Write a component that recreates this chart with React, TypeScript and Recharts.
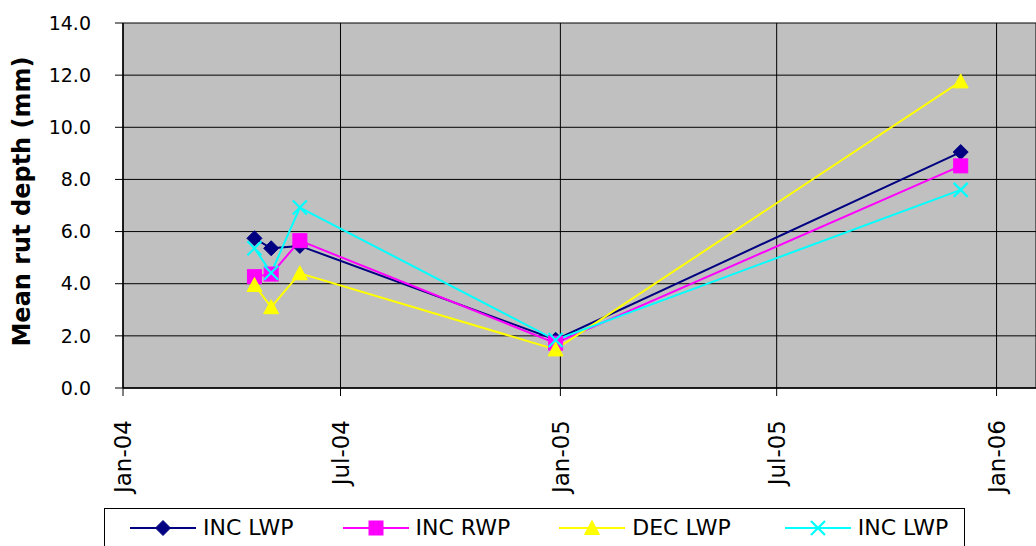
import React from 'react';
import { LineChart, Line, XAxis, YAxis, CartesianGrid } from 'recharts';

// ---- data ----
const sampleDates = ['2004-04-20', '2004-05-04', '2004-05-28', '2004-12-28', '2005-12-02'];
const incLwpA = [5.74, 5.36, 5.45, 1.85, 9.05];
const incRwp = [4.27, 4.37, 5.65, 1.72, 8.52];
const decLwp = [3.95, 3.1, 4.4, 1.48, 11.76];
const incLwpB = [5.36, 4.42, 6.92, 1.84, 7.6];
const seriesNames = ['INC LWP', 'INC RWP', 'DEC LWP', 'INC LWP'];
const xTickDates = ['2004-01-01', '2004-07-01', '2005-01-01', '2005-07-01', '2006-01-01'];
const xTickLabels = ['Jan-04', 'Jul-04', 'Jan-05', 'Jul-05', 'Jan-06'];
const xDomainDates = ['2004-01-01', '2006-02-03'];
const yTicks = [0, 2, 4, 6, 8, 10, 12, 14];
const yTitle = 'Mean rut depth (mm)';

const toMs = (s: string) => Date.parse(s + 'T00:00:00Z');

const data = sampleDates.map((d, i) => ({
  t: toMs(d),
  a: incLwpA[i],
  b: incRwp[i],
  c: decLwp[i],
  d: incLwpB[i],
}));

const xTicks = xTickDates.map(toMs);
const xLabelMap: Record<number, string> = {};
xTicks.forEach((t, i) => (xLabelMap[t] = xTickLabels[i]));

const FONT = '"DejaVu Sans", Verdana, sans-serif';
const NAVY = '#000080';
const MAGENTA = '#FF00FF';
const YELLOW = '#FFFF00';
const CYAN = '#00FFFF';

const Diamond = ({ cx, cy, color, r = 7.5 }: any) => (
  <polygon
    points={`${cx},${cy - r} ${cx + r},${cy} ${cx},${cy + r} ${cx - r},${cy}`}
    fill={color}
    stroke={color}
    strokeWidth={1}
  />
);
const Square = ({ cx, cy, color, s = 14 }: any) => (
  <rect x={cx - s / 2} y={cy - s / 2} width={s} height={s} fill={color} stroke={color} strokeWidth={1} />
);
const Triangle = ({ cx, cy, color }: any) => (
  <polygon
    points={`${cx},${cy - 7.5} ${cx + 7.5},${cy + 6.5} ${cx - 7.5},${cy + 6.5}`}
    fill={color}
    stroke={color}
    strokeWidth={1}
  />
);
const Cross = ({ cx, cy, color }: any) => (
  <g stroke={color} strokeWidth={2.2}>
    <line x1={cx - 7} y1={cy - 7} x2={cx + 7} y2={cy + 7} />
    <line x1={cx - 7} y1={cy + 7} x2={cx + 7} y2={cy - 7} />
  </g>
);

const markers = [Diamond, Square, Triangle, Cross];
const colors = [NAVY, MAGENTA, YELLOW, CYAN];
const keys = ['a', 'b', 'c', 'd'];

const XTick = (props: any) => {
  const { x, y, payload } = props;
  return (
    <g transform={`translate(${x},${y})`}>
      <text
        transform="rotate(-90)"
        x={-24}
        y={0}
        dy="0.36em"
        textAnchor="end"
        fontFamily={FONT}
        fontSize={23}
        fill="#000"
      >
        {xLabelMap[payload.value] ?? ''}
      </text>
    </g>
  );
};

const YTitle = (props: any) => {
  const vb = props.viewBox || { x: 0, y: 23, width: 123, height: 365 };
  const cx = vb.x + 22;
  const cy = vb.y + vb.height / 2 - 4;
  return (
    <text
      x={cx}
      y={cy}
      transform={`rotate(-90, ${cx}, ${cy})`}
      textAnchor="middle"
      dominantBaseline="central"
      fontFamily={FONT}
      fontWeight="bold"
      fontSize={24}
      fill="#000"
    >
      {yTitle}
    </text>
  );
};

const LegendIcon = ({ idx }: { idx: number }) => {
  const M = markers[idx];
  return (
    <svg width={66} height={20} style={{ display: 'block' }}>
      <line x1={0} y1={10} x2={66} y2={10} stroke={colors[idx]} strokeWidth={2} />
      <M cx={33} cy={10} color={colors[idx]} />
    </svg>
  );
};

export default function App() {
  return (
    <div style={{ position: 'absolute', left: 0, top: 0, width: 1036, height: 546, background: '#fff', overflow: 'hidden' }}>
      <LineChart width={1036} height={546} data={data} margin={{ top: 23, right: 0, bottom: 0, left: 0 }}>
        <CartesianGrid stroke="#000" strokeWidth={1} fill="#C0C0C0" fillOpacity={1} />
        <XAxis
          dataKey="t"
          type="number"
          scale="linear"
          domain={[toMs(xDomainDates[0]), toMs(xDomainDates[1])]}
          ticks={xTicks}
          interval={0}
          height={158}
          tickSize={8}
          tickMargin={0}
          tick={<XTick />}
          axisLine={{ stroke: '#000', strokeWidth: 1.5 }}
          tickLine={{ stroke: '#000' }}
          allowDataOverflow
        />
        <YAxis
          type="number"
          domain={[0, 14]}
          ticks={yTicks}
          interval={0}
          width={123}
          tickSize={8}
          tickMargin={24}
          tickFormatter={(v: number) => v.toFixed(1)}
          tick={{ fontFamily: FONT, fontSize: 19, fill: '#000' }}
          axisLine={{ stroke: '#000', strokeWidth: 1.5 }}
          tickLine={{ stroke: '#000' }}
          label={<YTitle />}
        />
        {keys.map((k, i) => {
          const M = markers[i];
          return (
            <Line
              key={k + i}
              type="linear"
              dataKey={k}
              name={seriesNames[i]}
              stroke={colors[i]}
              strokeWidth={2}
              isAnimationActive={false}
              activeDot={false}
              dot={(p: any) => <M key={`${k}-${p.index}`} cx={p.cx} cy={p.cy} color={colors[i]} />}
            />
          );
        })}
      </LineChart>
      <div
        style={{
          position: 'absolute',
          left: 104,
          top: 508,
          width: 861,
          height: 60,
          border: '1px solid #000',
          background: '#fff',
          boxSizing: 'border-box',
          display: 'flex',
          alignItems: 'flex-start',
          paddingLeft: 25,
          paddingTop: 8,
          fontFamily: FONT,
          fontSize: 22,
          color: '#000',
        }}
      >
        {seriesNames.map((n, i) => (
          <div key={i} style={{ display: 'flex', alignItems: 'center', marginRight: i === 2 ? 54 : 49 }}>
            <LegendIcon idx={i} />
            <span style={{ marginLeft: 7, lineHeight: '22px', whiteSpace: 'nowrap' }}>{n}</span>
          </div>
        ))}
      </div>
    </div>
  );
}
